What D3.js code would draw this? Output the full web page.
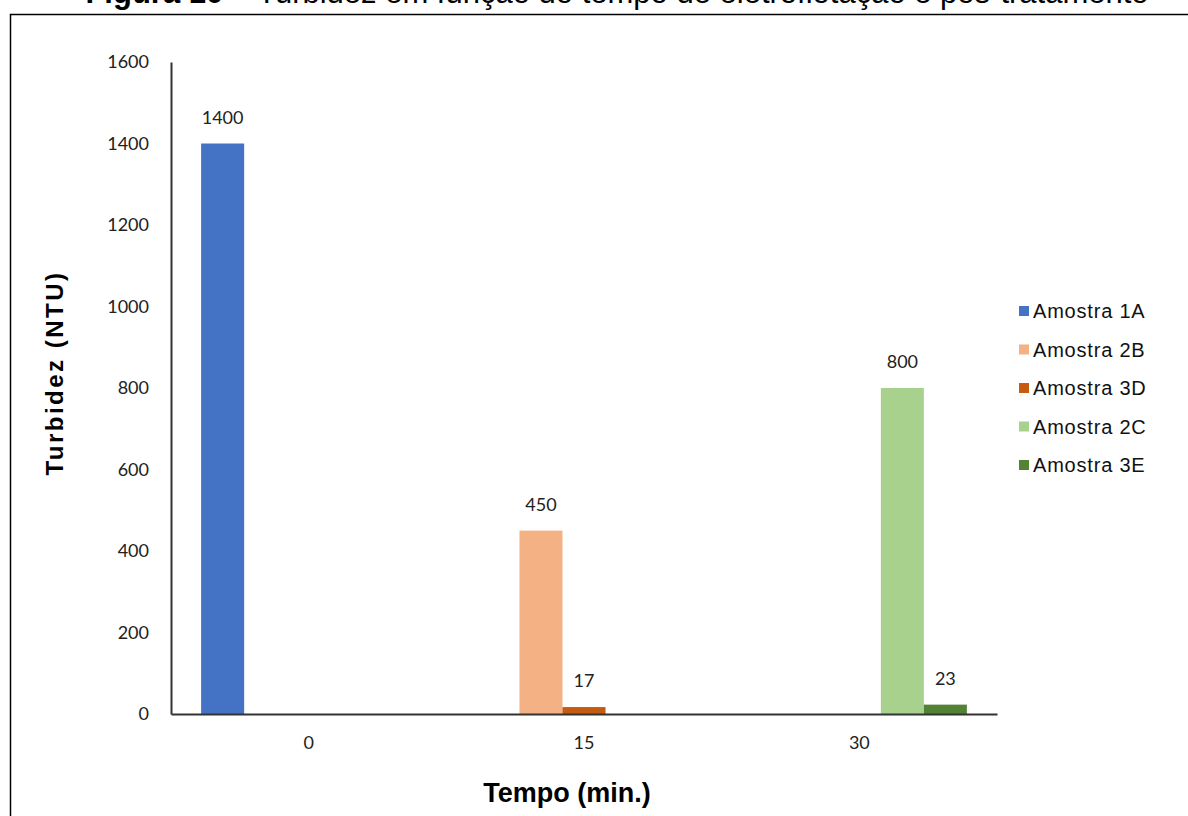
<!DOCTYPE html>
<html>
<head>
<meta charset="utf-8">
<script src="https://cdn.jsdelivr.net/npm/d3@7"></script>
<style>
  html, body { margin: 0; padding: 0; background: #fff; }
  svg { display: block; }
</style>
</head>
<body>
<svg id="chart" width="1188" height="816"></svg>
<script>
// Turbidity readings by electroflotation time and sample
const tempos = ["0", "15", "30"];
const amostras = ["Amostra 1A", "Amostra 2B", "Amostra 3D", "Amostra 2C", "Amostra 3E"];
const amostra1A = [1400, null, null];
const amostra2B = [null, 450, null];
const amostra3D = [null, 17, null];
const amostra2C = [null, null, 800];
const amostra3E = [null, null, 23];
const yTicks = [0, 200, 400, 600, 800, 1000, 1200, 1400, 1600];
const cores = ["#4472C4", "#F4B183", "#C55A11", "#A9D18E", "#548235"];

const series = [amostra1A, amostra2B, amostra3D, amostra2C, amostra3E];

const svg = d3.select("#chart");
const W = 1188, H = 816;
const tickFont = "Lato, 'Open Sans', sans-serif";
const textFont = "'Liberation Sans', Arial, sans-serif";

// Figure frame
svg.append("rect").attr("x", 10.5).attr("y", 14.5)
  .attr("width", W).attr("height", H)
  .attr("fill", "none").attr("stroke", "#000").attr("stroke-width", 1.5);

// Figure caption, running above the page edge
const cap = svg.append("text").attr("x", 617).attr("y", 3)
  .attr("text-anchor", "middle").attr("font-family", textFont)
  .attr("font-size", 31).attr("fill", "#000");
cap.append("tspan").attr("font-weight", "bold").text("Figura 10");
cap.append("tspan").text(" – Turbidez em função do tempo de eletroflotação e pós-tratamento");

const m = { left: 171, right: 997, top: 62, bottom: 714 };

const x0 = d3.scaleBand().domain(tempos).range([m.left, m.right]).paddingInner(0).paddingOuter(0);
const x1 = d3.scaleBand().domain(d3.range(amostras.length))
  .range([0, x0.bandwidth()]).paddingInner(0).paddingOuter(0.7);
const y = d3.scaleLinear().domain([0, 1600]).range([m.bottom, m.top]);

// Bars with value labels
series.forEach((vals, si) => {
  const g = svg.append("g");
  tempos.forEach((t, ti) => {
    const v = vals[ti];
    if (v == null) return;
    const bx = x0(t) + x1(si);
    g.append("rect")
      .attr("x", bx).attr("y", y(v))
      .attr("width", x1.bandwidth()).attr("height", y(0) - y(v))
      .attr("fill", cores[si]);
    g.append("text")
      .attr("x", bx + x1.bandwidth() / 2).attr("y", y(v) - 20)
      .attr("text-anchor", "middle").attr("font-family", tickFont)
      .attr("font-size", 18).attr("fill", "#222").text(v);
  });
});

// Y axis
const yAxis = svg.append("g").attr("transform", `translate(${m.left},0)`)
  .call(d3.axisLeft(y).tickValues(yTicks).tickFormat(d3.format("d")).tickSize(0).tickPadding(22));
yAxis.select(".domain").attr("stroke", "#333").attr("stroke-width", 2);
yAxis.selectAll("text").attr("font-family", tickFont).attr("font-size", 18).attr("fill", "#222");

// X axis
const xAxis = svg.append("g").attr("transform", `translate(0,${m.bottom})`)
  .call(d3.axisBottom(x0).tickSize(0).tickPadding(22));
xAxis.select(".domain").attr("stroke", "#333").attr("stroke-width", 2);
xAxis.selectAll("text").attr("font-family", tickFont).attr("font-size", 18).attr("fill", "#222");

// Axis titles
svg.append("text")
  .attr("transform", `translate(63,373) rotate(-90)`)
  .attr("text-anchor", "middle").attr("font-family", textFont)
  .attr("font-weight", "bold").attr("font-size", 24).attr("letter-spacing", 2.5)
  .attr("fill", "#000")
  .text("Turbidez (NTU)");
svg.append("text")
  .attr("x", 567).attr("y", 802)
  .attr("text-anchor", "middle").attr("font-family", textFont)
  .attr("font-weight", "bold").attr("font-size", 27).attr("fill", "#000")
  .text("Tempo (min.)");

// Legend
const leg = svg.append("g").attr("transform", "translate(1019,311)");
amostras.forEach((a, i) => {
  const row = leg.append("g").attr("transform", `translate(0,${i * 38.5})`);
  row.append("rect").attr("x", 0).attr("y", -5).attr("width", 10).attr("height", 10).attr("fill", cores[i]);
  row.append("text").attr("x", 14).attr("y", 0).attr("dy", "0.36em")
    .attr("font-family", textFont).attr("font-size", 20).attr("letter-spacing", 0.8)
    .attr("fill", "#111").text(a);
});
</script>
</body>
</html>
